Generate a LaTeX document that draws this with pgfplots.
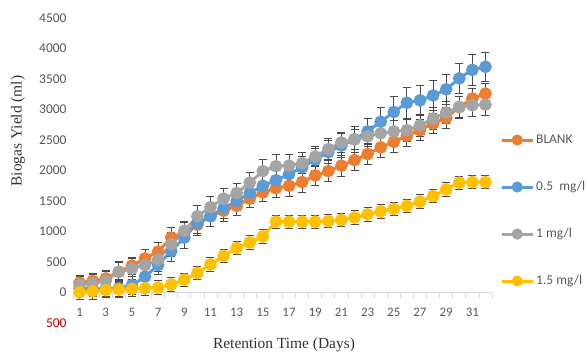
\documentclass[border=0pt]{standalone}
\usepackage{fontspec}
\setmainfont{Liberation Serif}
\newfontfamily\calib{Carlito}
\usepackage{pgfplots}
\usepackage{pgfplotstable}
\pgfplotsset{compat=1.18}
\definecolor{cO}{HTML}{ED7D31}
\definecolor{cB}{HTML}{5B9BD5}
\definecolor{cG}{HTML}{A5A5A5}
\definecolor{cY}{HTML}{FFC000}
\definecolor{errc}{HTML}{4A4A4A}
\definecolor{tickc}{HTML}{595959}
\definecolor{axc}{HTML}{D9D9D9}
\definecolor{negc}{HTML}{C00000}

\pgfplotstableread{
x  o    oe  b    be  g    ge  y    ye
1  160  120 70   120 120  150 5    120
2  190  130 60   120 150  150 20   130
3  230  130 60   120 190  150 40   120
4  340  150 70   140 340  170 50   130
5  440  140 120  150 390  170 60   120
6  560  150 260  150 450  180 70   120
7  670  150 450  160 540  200 80   120
8  900  160 680  170 790  200 130  110
9  990  160 900  170 1010 150 210  110
10 1110 180 1140 180 1250 180 320  110
11 1250 170 1250 170 1400 170 460  110
12 1340 170 1380 170 1540 160 600  110
13 1420 150 1500 160 1630 160 730  110
14 1540 150 1630 170 1800 170 820  110
15 1640 150 1750 170 1990 190 920  110
16 1710 150 1840 170 2070 190 1160 110
17 1750 170 1940 170 2080 180 1160 110
18 1810 170 2050 180 2120 170 1160 110
19 1920 170 2180 180 2230 170 1160 110
20 1990 170 2300 190 2350 170 1170 110
21 2080 170 2410 200 2460 170 1190 110
22 2170 170 2510 210 2510 170 1230 110
23 2270 170 2640 220 2560 170 1280 110
24 2380 170 2800 240 2610 180 1330 110
25 2470 170 2960 250 2640 180 1370 110
26 2570 170 3110 250 2660 180 1420 110
27 2660 170 3150 250 2740 180 1490 110
28 2770 170 3230 250 2850 180 1580 110
29 2860 170 3330 250 2950 180 1690 110
30 3040 170 3510 250 3040 180 1800 110
31 3180 170 3650 250 3070 180 1810 110
32 3260 170 3700 240 3080 180 1810 110
}\data

\begin{document}
\begin{tikzpicture}
\path[use as bounding box] (0,0) rectangle (587bp,364bp);
\begin{axis}[
  at={(73bp,41bp)}, anchor=south west,
  scale only axis, width=419bp, height=305bp,
  xmin=0.5, xmax=32.5, ymin=-500, ymax=4500,
  clip=false,
  axis x line=middle, axis y line=left,
  x axis line style={-, draw=axc, line width=0.8bp},
  y axis line style={draw=none},
  xtick={1,3,...,31},
  minor xtick={0.5,1.5,...,32.5},
  ytick={0,500,...,4500},
  extra y ticks={-500}, extra y tick labels={500},
  extra y tick style={yticklabel style={text=negc}},
  hide obscured x ticks=false, hide obscured y ticks=false,
  major tick length=0pt,
  minor tick length=5bp,
  tick align=outside,
  minor tick style={draw=axc, line width=0.8bp},
  /pgf/number format/assume math mode=true,
  /pgf/number format/1000 sep={},
  xticklabel style={font=\calib\fontsize{13}{15}\selectfont, text=tickc, yshift=-12.5bp},
  yticklabel style={font=\calib\fontsize{13.5}{15}\selectfont, text=tickc, xshift=-3bp},
  legend style={draw=none, fill=none, at={(axis description cs:1.012,0.630)}, anchor=north west,
    font=\calib\fontsize{13.5}{15}\selectfont, text=tickc, row sep=33bp,
    nodes={inner sep=1bp, text height=9bp, text depth=3bp}, column sep=1bp},
  legend cell align=left,
  legend image code/.code={\draw[mark repeat=2,mark phase=2,#1, mark size=4bp] plot coordinates {(0bp,0bp) (15.5bp,0bp) (31bp,0bp)};},
  every axis plot/.append style={line width=3bp, mark=*, mark size=4.8bp,
    /pgfplots/error bars/y dir=both, /pgfplots/error bars/y explicit,
    /pgfplots/error bars/error bar style={draw=errc, line width=0.8bp},
    /pgfplots/error bars/error mark options={rotate=90, draw=errc, line width=0.9bp, mark size=4bp}},
]
\addplot[color=cO, mark options={fill=cO, draw=cO}] table[x=x, y=o, y error=oe] {\data};
\addlegendentry{BLANK}
\addplot[color=cB, mark options={fill=cB, draw=cB}] table[x=x, y=b, y error=be] {\data};
\addlegendentry{0.5\ \ mg/l}
\addplot[color=cG, mark options={fill=cG, draw=cG}] table[x=x, y=g, y error=ge] {\data};
\addlegendentry{1 mg/l}
\addplot[color=cY, mark options={fill=cY, draw=cY}] table[x=x, y=y, y error=ye] {\data};
\addlegendentry{1.5 mg/l}
\end{axis}
\node[rotate=90, font=\fontsize{15.5}{18}\selectfont, text=black!80] at (18bp,233bp) {Biogas Yield (ml)};
\node[font=\fontsize{15.5}{18}\selectfont, text=black!80] at (284bp,19bp) {Retention Time (Days)};
\end{tikzpicture}
\end{document}
